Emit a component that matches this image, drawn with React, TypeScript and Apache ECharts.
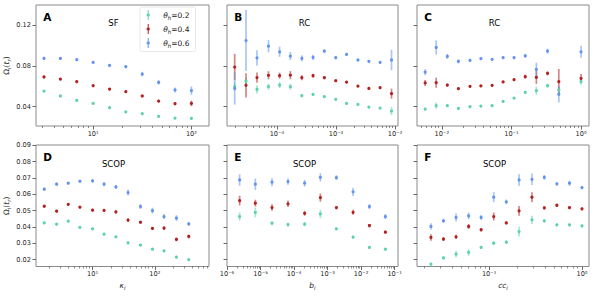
import React, { useEffect, useRef } from 'react';
import * as echarts from 'echarts';

// ---------- data ----------
const SERIES_NAMES = ['θh=0.2', 'θh=0.4', 'θh=0.6'];
const COLORS = ['#5fd3a6', '#b22222', '#6495ed'];

const A_x = [3.16, 4.64, 6.81, 10, 14.7, 21.5, 31.6, 46.4, 68.1, 100];
const A_y02 = [0.0554, 0.0505, 0.0462, 0.0432, 0.039, 0.035, 0.0331, 0.0305, 0.0288, 0.0285];
const A_e02 = [0.001, 0.0008, 0.0008, 0.0008, 0.0008, 0.0008, 0.0008, 0.0008, 0.0008, 0.0008];
const A_y04 = [0.0692, 0.0672, 0.0646, 0.0606, 0.0573, 0.0547, 0.0505, 0.0455, 0.0429, 0.0432];
const A_e04 = [0.0012, 0.001, 0.001, 0.001, 0.001, 0.0012, 0.0012, 0.0012, 0.0015, 0.0028];
const A_y06 = [0.0875, 0.0874, 0.0862, 0.0836, 0.0806, 0.0793, 0.0721, 0.0639, 0.0564, 0.0558];
const A_e06 = [0.0015, 0.0012, 0.0012, 0.0012, 0.0012, 0.0015, 0.0022, 0.0022, 0.0025, 0.0042];

const B_x = [1.93e-5, 3.0e-5, 4.6e-5, 7.2e-5, 1.11e-4, 1.69e-4, 2.64e-4, 4.09e-4, 6.35e-4, 9.9e-4, 1.51e-3, 2.35e-3, 3.6e-3, 5.58e-3, 8.7e-3];
const B_y02 = [0.06, 0.065, 0.057, 0.0598, 0.0613, 0.0596, 0.0508, 0.0521, 0.0498, 0.0472, 0.0432, 0.0422, 0.0396, 0.0386, 0.0357];
const B_e02 = [0.004, 0.003, 0.004, 0.003, 0.003, 0.003, 0.0015, 0.0012, 0.001, 0.001, 0.001, 0.001, 0.001, 0.001, 0.004];
const B_y04 = [0.079, 0.061, 0.0686, 0.0709, 0.0705, 0.071, 0.0685, 0.0705, 0.0685, 0.0655, 0.0642, 0.0603, 0.058, 0.0587, 0.0528];
const B_e04 = [0.013, 0.012, 0.005, 0.004, 0.003, 0.004, 0.0025, 0.002, 0.0015, 0.001, 0.001, 0.001, 0.001, 0.001, 0.005];
const B_y06 = [0.058, 0.105, 0.088, 0.0995, 0.094, 0.0898, 0.0875, 0.0885, 0.0947, 0.0882, 0.0915, 0.0859, 0.0846, 0.0836, 0.0859];
const B_e06 = [0.016, 0.03, 0.0075, 0.006, 0.005, 0.004, 0.003, 0.0025, 0.002, 0.0015, 0.0015, 0.001, 0.001, 0.001, 0.01];

const C_x = [0.00577, 0.0083, 0.012, 0.0173, 0.0254, 0.0364, 0.0528, 0.0759, 0.109, 0.158, 0.228, 0.33, 0.479, 1.0];
const C_y02 = [0.0377, 0.041, 0.041, 0.0383, 0.04, 0.0406, 0.041, 0.0452, 0.0485, 0.0541, 0.0557, 0.0606, 0.0564, 0.0646];
const C_e02 = [0.0015, 0.003, 0.0012, 0.001, 0.001, 0.001, 0.001, 0.001, 0.001, 0.0012, 0.004, 0.002, 0.003, 0.003];
const C_y04 = [0.0633, 0.0636, 0.0613, 0.0577, 0.06, 0.0604, 0.061, 0.0643, 0.0666, 0.0695, 0.0689, 0.0728, 0.0646, 0.0679];
const C_e04 = [0.003, 0.005, 0.0015, 0.001, 0.001, 0.001, 0.001, 0.001, 0.001, 0.002, 0.0065, 0.002, 0.0125, 0.0043];
const C_y06 = [0.074, 0.0982, 0.0895, 0.0846, 0.0856, 0.0872, 0.0866, 0.0882, 0.0882, 0.09, 0.0767, 0.0947, 0.0522, 0.094];
const C_e06 = [0.003, 0.007, 0.0025, 0.002, 0.0015, 0.0012, 0.001, 0.0012, 0.0015, 0.002, 0.0065, 0.0025, 0.008, 0.006];

const D_x = [1.67, 2.64, 4.06, 6.25, 10, 15.3, 23.7, 37.2, 58.9, 91.8, 141, 223, 352];
const D_y02 = [0.0425, 0.0417, 0.0436, 0.0397, 0.0389, 0.0356, 0.034, 0.0303, 0.0289, 0.0264, 0.0254, 0.0216, 0.02];
const D_e02 = [0.0007, 0.0007, 0.0007, 0.0006, 0.0006, 0.0006, 0.0007, 0.0008, 0.0006, 0.0006, 0.0008, 0.0008, 0.0006];
const D_y04 = [0.0527, 0.0497, 0.0539, 0.0521, 0.0503, 0.0501, 0.0493, 0.0442, 0.0429, 0.0391, 0.0393, 0.0324, 0.0342];
const D_e04 = [0.0008, 0.0008, 0.0008, 0.0008, 0.0008, 0.0008, 0.001, 0.0012, 0.0008, 0.0008, 0.0012, 0.0012, 0.0012];
const D_y06 = [0.0631, 0.0662, 0.0668, 0.068, 0.0682, 0.0662, 0.0645, 0.0611, 0.0525, 0.05, 0.0464, 0.0454, 0.0419];
const D_e06 = [0.001, 0.001, 0.0008, 0.0008, 0.001, 0.0012, 0.0012, 0.0018, 0.0015, 0.0018, 0.0015, 0.0018, 0.0012];

const E_x = [2.38e-6, 7.0e-6, 2.2e-5, 6.6e-5, 2.07e-4, 6.1e-4, 1.83e-3, 5.77e-3, 1.77e-2, 5.3e-2];
const E_y02 = [0.0464, 0.0489, 0.0423, 0.0415, 0.0417, 0.048, 0.0389, 0.0338, 0.0275, 0.0264];
const E_e02 = [0.0025, 0.003, 0.0012, 0.0012, 0.0012, 0.0025, 0.0008, 0.001, 0.0008, 0.0008];
const E_y04 = [0.0562, 0.0546, 0.0519, 0.0542, 0.0484, 0.058, 0.0519, 0.049, 0.0409, 0.0368];
const E_e04 = [0.003, 0.002, 0.002, 0.002, 0.0015, 0.0025, 0.001, 0.0015, 0.001, 0.001];
const E_y06 = [0.0688, 0.0662, 0.0674, 0.0678, 0.0668, 0.0704, 0.0702, 0.0615, 0.0525, 0.0464];
const E_e06 = [0.0035, 0.0035, 0.0025, 0.002, 0.002, 0.0025, 0.0015, 0.0025, 0.0015, 0.0015];

const F_x = [0.0236, 0.0322, 0.044, 0.0601, 0.082, 0.112, 0.153, 0.21, 0.289, 0.393, 0.536, 0.733, 1.0];
const F_y02 = [0.0173, 0.0211, 0.0234, 0.0244, 0.0275, 0.0301, 0.0307, 0.0372, 0.0444, 0.0438, 0.0413, 0.0413, 0.0407];
const F_e02 = [0.0008, 0.0008, 0.002, 0.002, 0.001, 0.0012, 0.001, 0.003, 0.0025, 0.001, 0.0008, 0.0008, 0.0008];
const F_y04 = [0.0336, 0.0326, 0.034, 0.0403, 0.0383, 0.0464, 0.0425, 0.0499, 0.0582, 0.0517, 0.0533, 0.0519, 0.0511];
const F_e04 = [0.002, 0.0012, 0.0012, 0.0015, 0.001, 0.0025, 0.001, 0.003, 0.003, 0.001, 0.001, 0.001, 0.0008];
const F_y06 = [0.0403, 0.0438, 0.0458, 0.0468, 0.0458, 0.0582, 0.0554, 0.0688, 0.0692, 0.0704, 0.0664, 0.0668, 0.0641];
const F_e06 = [0.002, 0.0012, 0.0025, 0.002, 0.0015, 0.003, 0.0015, 0.0035, 0.0035, 0.0015, 0.001, 0.0015, 0.001];

// axis ranges & ticks
const A_xrange = [2.62, 151];
const B_xrange = [1.43e-5, 0.0112];
const C_xrange = [0.0044, 1.3];
const D_xrange = [1.23, 745];
const E_xrange = [1e-6, 0.126];
const F_xrange = [0.0167, 1.19];
const A_xmajor = [10, 100];
const B_xmajor = [1e-4, 1e-3, 1e-2];
const C_xmajor = [1e-2, 1e-1, 1];
const D_xmajor = [10, 100];
const E_xmajor = [1e-6, 1e-5, 1e-4, 1e-3, 1e-2, 1e-1];
const F_xmajor = [1e-1, 1];
const TOP_yrange = [0.021, 0.14];
const TOP_yticks = [0.04, 0.08, 0.12];
const BOT_yrange = [0.0158, 0.0902];
const BOT_yticks = [0.02, 0.03, 0.04, 0.05, 0.06, 0.07, 0.08, 0.09];
const TITLES = ['SF', 'RC', 'RC', 'SCOP', 'SCOP', 'SCOP'];
const LETTERS = ['A', 'B', 'C', 'D', 'E', 'F'];

// ---------- helpers ----------
const FONT = 'DejaVu Sans';
const SUP: Record<string, string> = { '0': '⁰', '1': '¹', '2': '²', '3': '³', '4': '⁴', '5': '⁵', '6': '⁶', '7': '⁷', '8': '⁸', '9': '⁹', '-': '⁻' };
const fmtPow = (v: number) => {
  const n = Math.round(Math.log10(v));
  return '10' + String(n).split('').map((c) => SUP[c]).join('');
};
const minorTicks = (min: number, max: number) => {
  const out: number[] = [];
  for (let n = Math.floor(Math.log10(min)); n <= Math.ceil(Math.log10(max)); n++) {
    for (let k = 2; k <= 9; k++) {
      const v = k * Math.pow(10, n);
      if (v > min && v < max) out.push(v);
    }
  }
  return out;
};

const RICH = {
  n: { fontSize: 7.5, lineHeight: 11, fontFamily: FONT, color: '#222' },
  it: { fontSize: 7.5, lineHeight: 11, fontStyle: 'italic', fontFamily: FONT, color: '#222' },
  sub: { fontSize: 5.5, lineHeight: 5, fontStyle: 'italic', verticalAlign: 'bottom', fontFamily: FONT, color: '#222' },
};

const GRIDS = [
  { left: 36, top: 5, width: 173, height: 121 },
  { left: 227, top: 5, width: 171, height: 121 },
  { left: 417, top: 5, width: 172, height: 121 },
  { left: 36, top: 145, width: 173, height: 121.5 },
  { left: 227, top: 145, width: 171, height: 121.5 },
  { left: 417, top: 145, width: 172, height: 121.5 },
];

const PANELS = [
  { x: A_x, ys: [A_y02, A_y04, A_y06], es: [A_e02, A_e04, A_e06], xr: A_xrange, xm: A_xmajor },
  { x: B_x, ys: [B_y02, B_y04, B_y06], es: [B_e02, B_e04, B_e06], xr: B_xrange, xm: B_xmajor },
  { x: C_x, ys: [C_y02, C_y04, C_y06], es: [C_e02, C_e04, C_e06], xr: C_xrange, xm: C_xmajor },
  { x: D_x, ys: [D_y02, D_y04, D_y06], es: [D_e02, D_e04, D_e06], xr: D_xrange, xm: D_xmajor },
  { x: E_x, ys: [E_y02, E_y04, E_y06], es: [E_e02, E_e04, E_e06], xr: E_xrange, xm: E_xmajor },
  { x: F_x, ys: [F_y02, F_y04, F_y06], es: [F_e02, F_e04, F_e06], xr: F_xrange, xm: F_xmajor },
];

const X_NAMES: Record<number, string> = {
  3: '{it|κ}{sub|i}',
  4: '{it|b}{sub|i}',
  5: '{it|cc}{sub|i}',
};
const Y_NAME = '{n|Ω}{sub|i}{n|(}{it|t}{sub|r}{n|)}';

function buildOption() {
  const grid: any[] = [];
  const xAxis: any[] = [];
  const yAxis: any[] = [];
  const series: any[] = [];
  const graphic: any[] = [];

  PANELS.forEach((p, i) => {
    const g = GRIDS[i];
    grid.push({ ...g, show: true, borderColor: '#8a8a8a', borderWidth: 1, backgroundColor: 'transparent' });
    const top = i < 3;
    // major x axis
    xAxis.push({
      type: 'log',
      gridIndex: i,
      position: 'bottom',
      min: p.xr[0],
      max: p.xr[1],
      axisLine: { show: false },
      splitLine: { show: false },
      axisTick: { show: true, length: 3.5, inside: false, customValues: p.xm, lineStyle: { color: '#444', width: 0.8 } },
      axisLabel: { show: true, customValues: p.xm, formatter: (v: number) => fmtPow(v), fontSize: 6.6, fontFamily: FONT, color: '#262626', margin: 4 },
      name: X_NAMES[i] || '',
      nameLocation: 'middle',
      nameGap: 13,
      nameTextStyle: { rich: RICH },
    });
    // minor x axis
    xAxis.push({
      type: 'log',
      gridIndex: i,
      position: 'bottom',
      min: p.xr[0],
      max: p.xr[1],
      axisLine: { show: false },
      splitLine: { show: false },
      axisTick: { show: true, length: 2, inside: false, customValues: minorTicks(p.xr[0], p.xr[1]), lineStyle: { color: '#444', width: 0.6 } },
      axisLabel: { show: false },
    });
    const yr = top ? TOP_yrange : BOT_yrange;
    const yt = top ? TOP_yticks : BOT_yticks;
    yAxis.push({
      type: 'value',
      gridIndex: i,
      min: yr[0],
      max: yr[1],
      axisLine: { show: false },
      splitLine: { show: false },
      axisTick: { show: true, length: 3.5, customValues: yt, lineStyle: { color: '#444', width: 0.8 } },
      axisLabel: { show: i === 0 || i === 3, customValues: yt, formatter: (v: number) => v.toFixed(2), fontSize: 6.6, fontFamily: FONT, color: '#262626', margin: 5 },
      name: i === 0 || i === 3 ? Y_NAME : '',
      nameLocation: 'middle',
      nameRotate: 90,
      nameGap: 22,
      nameTextStyle: { rich: RICH },
    });

    for (let s = 0; s < 3; s++) {
      const color = COLORS[s];
      series.push({
        type: 'custom',
        name: 'err' + i + '_' + s,
        xAxisIndex: 2 * i,
        yAxisIndex: i,
        silent: true,
        clip: true,
        encode: { x: 0, y: 1 },
        data: p.x.map((xv, j) => [xv, p.ys[s][j], p.es[s][j]]),
        renderItem: (_params: any, api: any) => {
          const xv = api.value(0);
          const yv = api.value(1);
          const ev = api.value(2);
          const p1 = api.coord([xv, yv - ev]);
          const p2 = api.coord([xv, yv + ev]);
          return {
            type: 'line',
            shape: { x1: p1[0], y1: p1[1], x2: p2[0], y2: p2[1] },
            style: { stroke: color, lineWidth: 1.7, opacity: 0.55 },
          };
        },
      });
      series.push({
        type: 'scatter',
        name: SERIES_NAMES[s],
        xAxisIndex: 2 * i,
        yAxisIndex: i,
        symbol: 'circle',
        symbolSize: 3.2,
        itemStyle: { color, opacity: 1 },
        data: p.x.map((xv, j) => [xv, p.ys[s][j]]),
      });
    }

    graphic.push({
      type: 'text',
      x: g.left + 7.3,
      y: top ? 16.5 : 157,
      style: { text: LETTERS[i], font: `bold 10.5px "${FONT}"`, fill: '#000', textVerticalAlign: 'middle' },
    });
    graphic.push({
      type: 'text',
      x: g.left + 77.5,
      y: top ? 23.3 : 164,
      style: { text: TITLES[i], font: `8.5px "${FONT}"`, fill: '#000', textAlign: 'center', textVerticalAlign: 'middle' },
    });
  });

  return {
    animation: false,
    backgroundColor: '#fff',
    textStyle: { fontFamily: FONT },
    grid,
    xAxis,
    yAxis,
    series,
    graphic,
    legend: {
      data: SERIES_NAMES,
      orient: 'vertical',
      left: 140,
      top: 7,
      itemWidth: 20,
      itemHeight: 10,
      itemGap: 3.5,
      icon: 'path://M2,0h1v10h-1z M1,3.8h3v2.4h-3z',
      padding: [3, 6, 3, 6.7],
      borderColor: '#e2e2e2',
      borderWidth: 0.8,
      borderRadius: 2,
      backgroundColor: 'rgba(255,255,255,0.8)',
      selectedMode: false,
      formatter: (name: string) => `{it|θ}{sub|h}{n|${name.slice(2)}}`,
      textStyle: { rich: RICH, fontSize: 7.5 },
    },
  };
}

export default function App() {
  const ref = useRef<HTMLDivElement>(null);
  useEffect(() => {
    const chart = echarts.init(ref.current!, null, { renderer: 'svg' });
    chart.setOption(buildOption() as any);
    return () => chart.dispose();
  }, []);
  return <div ref={ref} style={{ position: 'absolute', left: 0, top: 0, width: 595, height: 296 }} />;
}
